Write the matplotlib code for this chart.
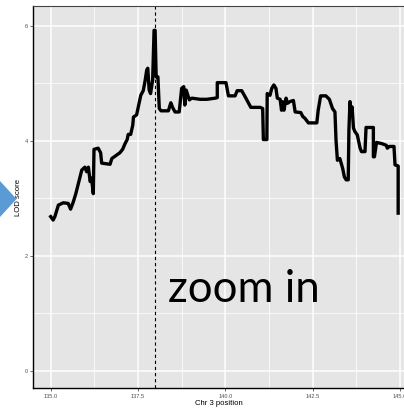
import matplotlib
matplotlib.use("Agg")
import matplotlib.pyplot as plt
from matplotlib.patches import Polygon

# LOD trace
pos = [135.00, 135.07, 135.12, 135.22, 135.36, 135.50, 135.57, 135.65, 135.72, 135.82,
       135.89, 135.98, 136.03, 136.08, 136.13, 136.17, 136.22, 136.24, 136.36, 136.43,
       136.46, 136.70, 136.75, 136.98, 137.06, 137.13, 137.19, 137.22, 137.29, 137.35,
       137.37, 137.46, 137.51, 137.58, 137.65, 137.70, 137.75, 137.78, 137.82, 137.86,
       137.92, 137.96, 137.99, 138.02, 138.07, 138.11, 138.16, 138.37, 138.44, 138.49,
       138.56, 138.68, 138.75, 138.81, 138.84, 138.88, 138.97, 139.04, 139.28, 139.47,
       139.71, 139.77, 139.77, 140.02, 140.09, 140.28, 140.34, 140.47, 140.59, 140.73,
       141.00, 141.07, 141.09, 141.19, 141.20, 141.28, 141.33, 141.39, 141.45, 141.49,
       141.57, 141.61, 141.64, 141.68, 141.74, 141.78, 141.85, 141.95, 142.00, 142.16,
       142.22, 142.28, 142.38, 142.62, 142.66, 142.73, 142.88, 142.98, 143.07, 143.14,
       143.17, 143.21, 143.28, 143.36, 143.41, 143.46, 143.52, 143.54, 143.57, 143.60,
       143.63, 143.67, 143.71, 143.78, 143.86, 143.90, 144.00, 144.03, 144.24, 144.24,
       144.27, 144.33, 144.48, 144.61, 144.64, 144.70, 144.83, 144.86, 144.95, 144.95]
lod = [2.68, 2.62, 2.68, 2.88, 2.92, 2.91, 2.81, 2.94, 3.08, 3.32,
       3.49, 3.54, 3.46, 3.54, 3.29, 3.35, 3.08, 3.85, 3.87, 3.79,
       3.61, 3.59, 3.69, 3.79, 3.85, 3.95, 4.02, 4.11, 4.11, 4.27,
       4.41, 4.45, 4.59, 4.79, 4.87, 5.03, 5.23, 5.26, 4.88, 4.82,
       5.06, 5.92, 5.92, 5.11, 5.11, 4.56, 4.52, 4.52, 4.66, 4.58,
       4.50, 4.50, 4.91, 4.94, 4.62, 4.88, 4.71, 4.74, 4.72, 4.72,
       4.74, 4.75, 5.01, 5.01, 4.78, 4.78, 4.87, 4.87, 4.74, 4.58,
       4.58, 4.56, 4.02, 4.02, 4.82, 4.79, 4.91, 4.97, 4.91, 4.74,
       4.72, 4.53, 4.68, 4.53, 4.74, 4.65, 4.68, 4.70, 4.50, 4.49,
       4.42, 4.39, 4.31, 4.31, 4.53, 4.78, 4.78, 4.72, 4.56, 4.50,
       4.01, 3.66, 3.69, 3.52, 3.37, 3.32, 3.32, 4.19, 4.68, 4.48,
       4.59, 4.22, 4.16, 4.10, 3.87, 3.81, 3.81, 4.23, 4.23, 3.72,
       3.72, 3.97, 3.95, 3.92, 3.87, 3.90, 3.90, 3.58, 3.56, 2.74]
peak_pos = 138.0
xticks = [135.0, 137.5, 140.0, 142.5, 145.0]
yticks = [0, 2, 4, 6]

fig = plt.figure(figsize=(4.04, 4.09), dpi=100)
ax = fig.add_axes([33.3 / 404, 1 - 388 / 409, 1 - 33.3 / 404, (388 - 6) / 409])
ax.set_facecolor("#e5e5e5")

ax.plot(pos, lod, color="black", lw=2.4, solid_joinstyle="round", zorder=3)
ax.axvline(peak_pos, color="black", lw=0.8, ls=(0, (3, 2.5)), zorder=2)

ax.set_xlim(134.502, 145.117)
ax.set_ylim(-0.301, 6.343)
ax.set_xticks(xticks)
ax.set_xticklabels([f"{t:.1f}" for t in xticks])
ax.set_yticks(yticks)
ax.set_xticks([136.25, 138.75, 141.25, 143.75], minor=True)
ax.set_yticks([1, 3, 5], minor=True)
ax.grid(which="major", color="white", lw=1.1)
ax.grid(which="minor", color="white", lw=0.55)
ax.set_axisbelow(True)

ax.tick_params(which="major", length=2.5, width=0.5, color="#333333",
               labelsize=4.1, labelcolor="#4d4d4d", pad=1.5)
ax.tick_params(which="minor", length=0)
for lab in ax.get_xticklabels() + ax.get_yticklabels():
    lab.set_family("Liberation Sans")

for s in ["left", "bottom"]:
    ax.spines[s].set_color("black")
    ax.spines[s].set_linewidth(1.0)
ax.spines["top"].set_color("#444444")
ax.spines["top"].set_linewidth(0.8)
ax.spines["right"].set_visible(False)

ax.set_xlabel("Chr 3 position", fontsize=5.6, family="Liberation Sans", labelpad=1)
ax.set_ylabel("LOD score", fontsize=5.6, family="Liberation Sans", labelpad=2)

ax.text(138.36, 1.2, "zoom in", fontsize=31.5, va="baseline", ha="left",
        family="Lato", zorder=4)

# blue arrow at the left edge
arrow = Polygon([(0, 1 - 181 / 409), (16.5 / 404, 1 - 199 / 409), (0, 1 - 217 / 409)],
                closed=True, transform=fig.transFigure, facecolor="#5b9bd5",
                edgecolor="none")
fig.patches.append(arrow)

fig.savefig("out.png", dpi=100)
